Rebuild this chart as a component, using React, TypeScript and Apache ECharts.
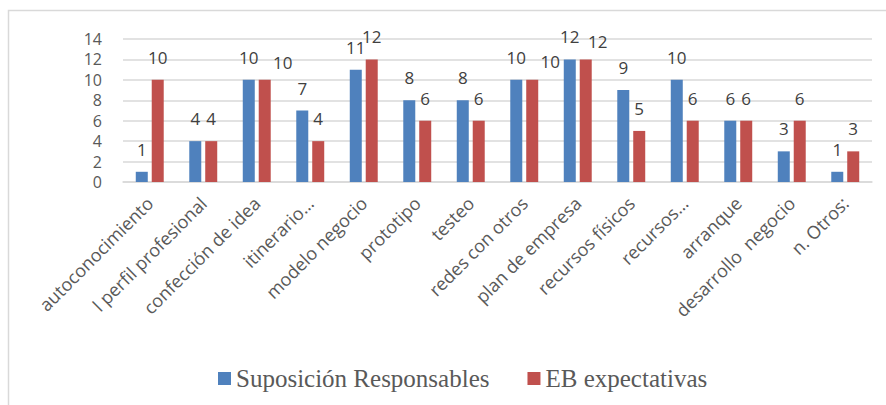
import React, { useEffect, useRef } from "react";
import * as echarts from "echarts";

const categories = [
  "autoconocimiento",
  "l perfil profesional",
  "confección de idea",
  "itinerario…",
  "modelo negocio",
  "prototipo",
  "testeo",
  "redes con otros",
  "plan de empresa",
  "recursos físicos",
  "recursos…",
  "arranque",
  "desarrollo  negocio",
  "n. Otros:",
];
const suposicion = [1, 4, 10, 7, 11, 8, 8, 10, 12, 9, 10, 6, 3, 1];
const expectativas = [10, 4, 10, 4, 12, 6, 6, 10, 12, 5, 6, 6, 6, 3];
const yTicks = [0, 14, 2];

export default function App() {
  const ref = useRef<HTMLDivElement>(null);
  useEffect(() => {
    if (!ref.current) return;
    const chart = echarts.init(ref.current, null, { renderer: "svg" });
    const labelStyle = {
      show: true,
      position: "top",
      distance: 14,
      fontFamily: "Open Sans",
      fontSize: 17,
      color: "#404040",
    };
    // label nudges (Excel-like collision avoidance) for the red series
    const redNudge: Record<number, [number, number]> = { 2: [18, 5], 7: [18, 4], 8: [12, 5] };
    const redData = expectativas.map((v, i) =>
      redNudge[i] ? { value: v, label: { offset: redNudge[i] } } : v
    );
    chart.setOption({
      animation: false,
      graphic: [
        {
          type: "rect",
          shape: { x: 8.5, y: 10.5, width: 1000, height: 600 },
          style: { fill: "none", stroke: "#d9d9d9", lineWidth: 1.5 },
          silent: true,
        },
      ],
      grid: { left: 123, right: 14, top: 39, height: 143, containLabel: false },
      legend: {
        left: 213,
        top: 361,
        itemWidth: 13,
        itemHeight: 13,
        itemGap: 38,
        icon: "rect",
        textStyle: { fontFamily: "Liberation Serif", fontSize: 25, color: "#595959" },
        data: ["Suposición Responsables", "EB expectativas"],
      },
      xAxis: {
        type: "category",
        data: categories,
        axisLine: { lineStyle: { color: "#d9d9d9", width: 1.5 } },
        axisTick: { show: false },
        axisLabel: {
          rotate: 45,
          interval: 0,
          margin: 18,
          fontFamily: "Open Sans",
          fontSize: 18,
          color: "#595959",
        },
      },
      yAxis: {
        type: "value",
        min: yTicks[0],
        max: yTicks[1],
        interval: yTicks[2],
        axisLine: { show: false },
        axisTick: { show: false },
        splitLine: { lineStyle: { color: "#d9d9d9", width: 1.5 } },
        axisLabel: {
          margin: 21,
          fontFamily: "Open Sans",
          fontSize: 16,
          color: "#595959",
        },
      },
      series: [
        {
          name: "Suposición Responsables",
          type: "bar",
          data: suposicion,
          barWidth: 12,
          barGap: "33%",
          itemStyle: { color: "#4f81bd" },
          label: labelStyle,
        },
        {
          name: "EB expectativas",
          type: "bar",
          data: redData,
          barWidth: 12,
          barGap: "33%",
          itemStyle: { color: "#c0504d" },
          label: labelStyle,
        },
      ],
    });
    return () => chart.dispose();
  }, []);
  return (
    <div
      ref={ref}
      style={{ position: "fixed", left: 0, top: 0, width: 886, height: 405, background: "#fff" }}
    />
  );
}
